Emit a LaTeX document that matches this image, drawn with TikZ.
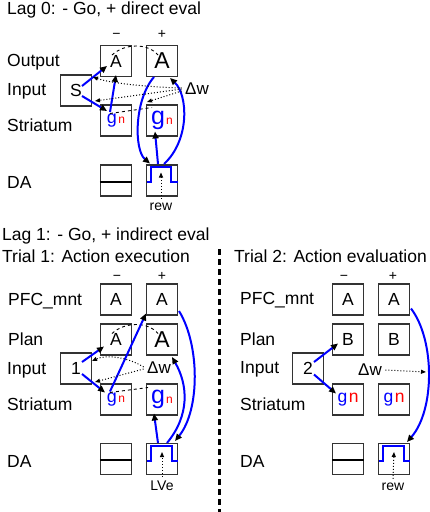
\documentclass[tikz,border=0pt]{standalone}
\usepackage{fontspec}
\setmainfont{Liberation Sans}
\usetikzlibrary{arrows.meta}
\newcommand{\bigfs}{\fontsize{23}{26}\selectfont}
\newcommand{\stsmall}{{\color{blue}\fontsize{18}{20}\selectfont g}\kern1.5pt{\color{red}\fontsize{12}{14}\selectfont n}}
\newcommand{\stbig}{{\color{blue}\fontsize{25}{28}\selectfont g}\kern1pt{\color{red}\fontsize{12}{14}\selectfont n}}
\newcommand{\steven}{{\color{blue}g}\kern1.5pt{\color{red}n}}

\begin{document}
\begin{tikzpicture}[x=1pt, y=-1pt,
  every node/.style={font=\fontsize{17.5}{20}\selectfont},
  unit/.style={draw=black!80, line width=1.3pt, minimum size=31pt, inner sep=0pt},
  lbl/.style={anchor=base west, inner sep=0pt},
  sgn/.style={anchor=base, font=\fontsize{14}{16}\selectfont},
  small/.style={anchor=base, font=\fontsize{14}{16}\selectfont},
  dwlbl/.style={font=\fontsize{17}{19}\selectfont},
  wt/.style={blue, line width=2pt, -{Triangle[length=7pt, width=6pt, color=black]}},
  dwt/.style={dotted, line width=1pt, -{Triangle[length=5pt, width=4pt]}},
  lat/.style={dashed, line width=0.9pt},
  pulse/.style={blue, line width=2pt},
]
  \useasboundingbox (0,0) rectangle (430,512);

  % Lag 0
  \node[lbl] (t0) at (7,14) {Lag 0: - Go, + direct eval};
  \node[sgn] (mi0) at (116.5,38) {−};
  \node[sgn] (pl0) at (162,38) {+};
  \node[lbl] (lo0) at (7,66.7) {Output};
  \node[lbl] (li0) at (7,95) {Input};
  \node[lbl] (ls0) at (7,131.7) {Striatum};
  \node[lbl] (ld0) at (7,188.3) {DA};

  \node[unit] (om) at (116,61) {A};
  \node[unit, font=\bigfs] (op) at (162,61) {A};
  \node[unit] (in0) at (76,90.5) {S};
  \node[unit] (sm) at (116,120.5) {\stsmall};
  \node[unit] (sp) at (162,120.5) {\stbig};
  \node[unit] (dm) at (116,180.5) {};
  \node[unit] (dp) at (162,180.5) {};
  \node[dwlbl] (dw0) at (197,89) {Δw};
  \node[small] (rew0) at (161,210) {rew};

  \draw[line width=2pt] ([yshift=-1pt]dm.west) -- ([yshift=-1pt]dm.east);
  \draw[pulse] ([shift={(-15,1.5)}]dp.center) -- ++(3.5,0) -- ++(0,-15) -- ++(20.5,0) -- ++(0,15) -- ++(6.5,0);

  \draw[lat] ([shift={(-4,-6)}]om.center) .. controls +(13,-12) and +(-10,-12) .. ([shift={(-4,-6)}]op.center);
  \draw[lat] ([shift={(-6,-7)}]sm.center) -- ([shift={(-10,-13)}]sp.center);

  \draw[wt] ([shift={(6,-4.5)}]in0.center) -- ([shift={(-9,5)}]om.center);
  \draw[wt] ([shift={(6,5.5)}]in0.center) -- ([shift={(-9,-9.5)}]sm.center);
  \draw[wt] ([shift={(-6,-8.5)}]sm.center) -- ([shift={(0,14)}]om.center);
  \draw[wt] ([shift={(-8,16)}]op.center) .. controls +(-20,23) and +(-16,-13.5) .. ([shift={(-12,-17)}]dp.center);
  \draw[wt] ([shift={(-4,-16.5)}]dp.center) -- ([shift={(-7,11)}]sp.center);
  \draw[wt] ([shift={(2,-16.5)}]dp.center) .. controls +(26,-24) and +(18,17) .. ([shift={(8,17)}]op.center);

  \draw[dwt] ([yshift=1pt]dw0.west) .. controls +(-36,-1) and +(17,6) .. ([shift={(17,-13.5)}]in0.center);
  \draw[dwt] (dw0.west) -- ([shift={(19,10.5)}]in0.center);
  \draw[dwt] ([yshift=-2pt]dw0.west) -- ([shift={(-15,-18.5)}]sp.center);
  \draw[dwt] (rew0.north) -- ([shift={(-1,-8)}]dp.center);

  % Lag 1, trial 1
  \node[lbl] (t1) at (2,240.7) {Lag 1: - Go, + indirect eval};
  \node[lbl] (t1a) at (2,262.7) {Trial 1: Action execution};
  \node[sgn] (mi1) at (117,280) {−};
  \node[sgn] (pl1) at (162,280) {+};
  \node[lbl] (lp1t) at (8,305) {PFC\_mnt};
  \node[lbl] (ll1) at (8,345) {Plan};
  \node[lbl] (li1) at (7,374) {Input};
  \node[lbl] (ls1) at (7,410) {Striatum};
  \node[lbl] (ld1) at (7,467) {DA};

  \node[unit] (pm1) at (116,299.5) {A};
  \node[unit] (pp1) at (162,299.5) {A};
  \node[unit] (lm1) at (116,339.5) {A};
  \node[unit, font=\bigfs] (lp1) at (162,339.5) {A};
  \node[unit] (in1) at (76,368.5) {1};
  \node[unit] (sm1) at (116,399.5) {\stsmall};
  \node[unit] (sp1) at (162,399.5) {\stbig};
  \node[unit] (dm1) at (116,459) {};
  \node[unit] (dp1) at (162,459) {};
  \node[dwlbl] (dw1) at (159,368) {Δw};
  \node[small] (lve) at (162,490) {LVe};

  \draw[line width=2pt] ([yshift=-1pt]dm1.west) -- ([yshift=-1pt]dm1.east);
  \draw[pulse] ([shift={(-15,2)}]dp1.center) -- ++(4,0) -- ++(0,-15) -- ++(21,0) -- ++(0,15) -- ++(5.5,0);

  \draw[lat] ([shift={(-4,-6)}]lm1.center) .. controls +(13,-12) and +(-10,-12) .. ([shift={(-4,-6)}]lp1.center);
  \draw[lat] ([shift={(-6,-7)}]sm1.center) -- ([shift={(-14,-12)}]sp1.center);

  \draw[wt] ([shift={(6,-6.5)}]in1.center) -- ([shift={(-12,7)}]lm1.center);
  \draw[wt] ([shift={(6,5.5)}]in1.center) -- ([shift={(-11,-7)}]sm1.center);
  \draw[wt] ([shift={(-6,-8)}]sm1.center) -- ([shift={(-16,14)}]pp1.center);
  \draw[wt] ([shift={(17,11.5)}]pp1.center) .. controls +(21,34) and +(25,-31) .. ([shift={(13,-18)}]dp1.center);
  \draw[wt] ([shift={(5,-16)}]dp1.center) .. controls +(23,-28) and +(16,28) .. ([shift={(10,17.5)}]lp1.center);
  \draw[wt] ([shift={(-4,-16)}]dp1.center) -- ([shift={(-8,14)}]sp1.center);

  \draw[dwt] ([yshift=1pt]dw1.west) .. controls +(-18,-11) and +(13,-6) .. ([shift={(16,-7.5)}]in1.center);
  \draw[dwt] ([yshift=-1pt]dw1.west) -- ([shift={(19,13.5)}]in1.center);
  \draw[dwt] (lve.north) -- ([shift={(0,-7)}]dp1.center);

  % separator
  \draw[line width=3.5pt, dash pattern=on 6pt off 4pt] (219.5,249) -- (219.5,512);

  % trial 2
  \node[lbl] (t2) at (234,262) {Trial 2: Action evaluation};
  \node[sgn] (mi2) at (344,280) {−};
  \node[sgn] (pl2) at (393,280) {+};
  \node[lbl] (lp2t) at (240,304) {PFC\_mnt};
  \node[lbl] (ll2) at (240,345) {Plan};
  \node[lbl] (li2) at (240,373.5) {Input};
  \node[lbl] (ls2) at (240,410) {Striatum};
  \node[lbl] (ld2) at (240,467) {DA};

  \node[unit] (pm2) at (348,299.5) {A};
  \node[unit] (pp2) at (394,299.5) {A};
  \node[unit] (lm2) at (348,339.5) {B};
  \node[unit] (lp2) at (394,339.5) {B};
  \node[unit] (in2) at (308,368.5) {2};
  \node[unit] (sm2) at (348,399.5) {\steven};
  \node[unit] (sp2) at (394,399.5) {\steven};
  \node[unit] (dm2) at (348,459) {};
  \node[unit] (dp2) at (394,459) {};
  \node[dwlbl] (dw2) at (370,370) {Δw};
  \coordinate (syn2) at (426,372);
  \node[small] (rew2) at (393,490) {rew};

  \draw[line width=2pt] ([yshift=-1pt]dm2.west) -- ([yshift=-1pt]dm2.east);
  \draw[pulse] ([shift={(-15,2)}]dp2.center) -- ++(4,0) -- ++(0,-15) -- ++(21,0) -- ++(0,15) -- ++(5.5,0);

  \draw[wt] ([shift={(6,-6.5)}]in2.center) -- ([shift={(-10,4)}]lm2.center);
  \draw[wt] ([shift={(6,6)}]in2.center) -- ([shift={(-12,-6)}]sm2.center);
  \draw[wt] ([shift={(17,9)}]pp2.center) .. controls +(24,31.5) and +(28,-32) .. ([shift={(13,-17)}]dp2.center);

  \draw[dwt] (dw2.east) -- (syn2);
  \draw[dwt] (rew2.north) -- ([shift={(0,-7)}]dp2.center);
\end{tikzpicture}
\end{document}
